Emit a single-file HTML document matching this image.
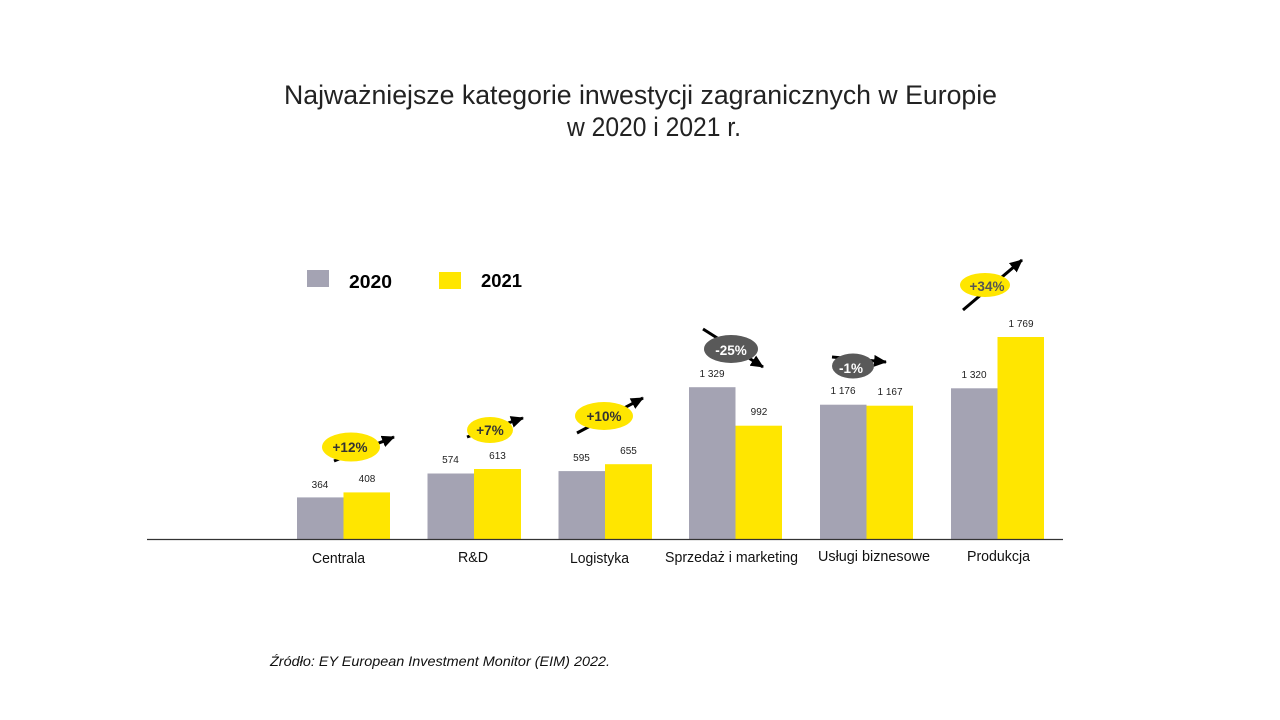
<!DOCTYPE html>
<html><head><meta charset="utf-8"><style>
html,body{margin:0;padding:0;background:#fff;}
svg{display:block;}
text{font-family:"Liberation Sans",sans-serif;}
</style></head><body>
<svg width="1280" height="720" viewBox="0 0 1280 720" xmlns="http://www.w3.org/2000/svg">
<defs>
<marker id="ah" markerUnits="userSpaceOnUse" markerWidth="14" markerHeight="12" refX="12" refY="6" orient="auto">
<path d="M0,0 L13,6 L0,12 Z" fill="#000"/>
</marker>
</defs>
<rect width="1280" height="720" fill="#fff"/>
<!-- title -->
<text x="284" y="104" font-size="27" fill="#222" textLength="713" lengthAdjust="spacingAndGlyphs">Najważniejsze kategorie inwestycji zagranicznych w Europie</text>
<text x="567" y="136" font-size="27" fill="#222" textLength="174" lengthAdjust="spacingAndGlyphs">w 2020 i 2021 r.</text>
<!-- legend -->
<rect x="307" y="270" width="22" height="17" fill="#A4A3B3"/>
<text x="349" y="288" font-size="18" font-weight="bold" fill="#000" textLength="43" lengthAdjust="spacingAndGlyphs">2020</text>
<rect x="439" y="272" width="22" height="17" fill="#FFE600"/>
<text x="481" y="287" font-size="18" font-weight="bold" fill="#000" textLength="41" lengthAdjust="spacingAndGlyphs">2021</text>
<!-- bars -->
<g fill="#A4A3B3">
<rect x="297" y="497.4" width="46.5" height="41.6"/>
<rect x="427.5" y="473.5" width="46.5" height="65.5"/>
<rect x="558.5" y="471.1" width="46.5" height="67.9"/>
<rect x="689" y="387.2" width="46.5" height="151.8"/>
<rect x="820" y="404.7" width="46.5" height="134.3"/>
<rect x="951" y="388.3" width="46.5" height="150.7"/>
</g>
<g fill="#FFE600">
<rect x="343.5" y="492.4" width="46.5" height="46.6"/>
<rect x="474" y="469" width="47" height="70"/>
<rect x="605" y="464.2" width="47" height="74.8"/>
<rect x="735.5" y="425.7" width="46.5" height="113.3"/>
<rect x="866.5" y="405.7" width="46.5" height="133.3"/>
<rect x="997.5" y="337" width="46.5" height="202"/>
</g>
<!-- axis -->
<line x1="147" y1="539.5" x2="1063" y2="539.5" stroke="#333" stroke-width="1.2"/>
<!-- value labels -->
<g font-size="10" fill="#222" text-anchor="middle">
<text x="320" y="488">364</text>
<text x="367" y="482">408</text>
<text x="450.5" y="463">574</text>
<text x="497.5" y="459">613</text>
<text x="581.5" y="461">595</text>
<text x="628.5" y="454">655</text>
<text x="712" y="377">1 329</text>
<text x="759" y="415">992</text>
<text x="843" y="394">1 176</text>
<text x="890" y="395">1 167</text>
<text x="974" y="378">1 320</text>
<text x="1021" y="327">1 769</text>
</g>
<!-- category labels -->
<g font-size="15" fill="#111">
<text x="312" y="563" textLength="53" lengthAdjust="spacingAndGlyphs">Centrala</text>
<text x="458" y="562" textLength="30" lengthAdjust="spacingAndGlyphs">R&amp;D</text>
<text x="570" y="563" textLength="59" lengthAdjust="spacingAndGlyphs">Logistyka</text>
<text x="665" y="562" textLength="133" lengthAdjust="spacingAndGlyphs">Sprzedaż i marketing</text>
<text x="818" y="561" textLength="112" lengthAdjust="spacingAndGlyphs">Usługi biznesowe</text>
<text x="967" y="561" textLength="63" lengthAdjust="spacingAndGlyphs">Produkcja</text>
</g>
<!-- arrows -->
<g stroke="#000" stroke-width="3" marker-end="url(#ah)">
<line x1="334" y1="461" x2="394" y2="437"/>
<line x1="467" y1="437" x2="523" y2="418"/>
<line x1="577" y1="433" x2="643" y2="398"/>
<line x1="703" y1="329" x2="763" y2="367"/>
<line x1="832" y1="357" x2="886" y2="362"/>
<line x1="963" y1="310" x2="1022" y2="260"/>
</g>
<!-- badges -->
<ellipse cx="351" cy="447" rx="29" ry="14.5" fill="#FFE600"/>
<ellipse cx="490" cy="430" rx="23" ry="13" fill="#FFE600"/>
<ellipse cx="604" cy="416" rx="29" ry="14" fill="#FFE600"/>
<ellipse cx="731" cy="349" rx="27" ry="14" fill="#595959"/>
<ellipse cx="853" cy="366" rx="21" ry="12.5" fill="#595959"/>
<ellipse cx="985" cy="285" rx="25" ry="12" fill="#FFE600"/>
<g font-size="13.5" font-weight="bold" text-anchor="middle">
<text x="350" y="452" fill="#333">+12%</text>
<text x="490" y="435" fill="#333">+7%</text>
<text x="604" y="421" fill="#333">+10%</text>
<text x="731" y="355" fill="#fff">-25%</text>
<text x="851" y="373" fill="#fff">-1%</text>
<text x="987" y="291" fill="#555">+34%</text>
</g>
<!-- source -->
<text x="270" y="666" font-size="14" font-style="italic" fill="#111" textLength="340" lengthAdjust="spacingAndGlyphs">Źródło: EY European Investment Monitor (EIM) 2022.</text>
</svg>
</body></html>
